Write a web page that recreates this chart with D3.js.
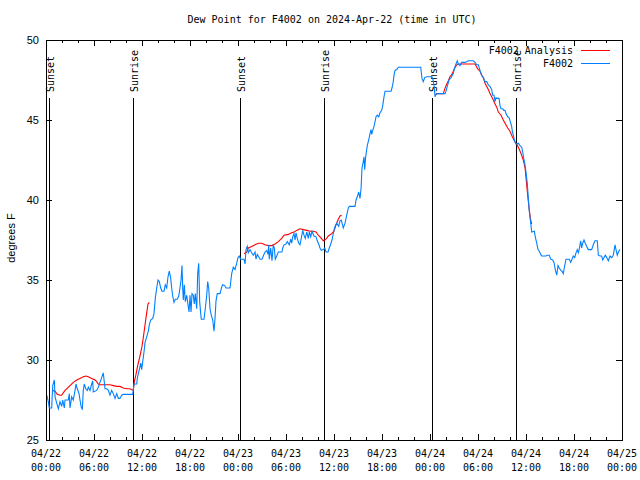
<!DOCTYPE html>
<html><head><meta charset="utf-8">
<script src="https://cdn.jsdelivr.net/npm/d3@7"></script>
<style>
body{margin:0;background:#fff;}
svg{display:block;}
.mono{font-family:"DejaVu Sans Mono","Liberation Mono",monospace;font-size:10px;fill:#000;}
.sans{font-family:"Liberation Sans","DejaVu Sans",sans-serif;font-size:11px;fill:#000;}
</style></head>
<body>
<svg id="c" width="640" height="480"></svg>
<script>
// ---- data (hours since 2024-04-22 00:00 UTC) ----
const title = "Dew Point for F4002 on 2024-Apr-22 (time in UTC)";
const yLabel = "degrees F";
const seriesNames = ["F4002 Analysis", "F4002"];
const yTicks = [25, 30, 35, 40, 45, 50];
const xTickHours = [0, 6, 12, 18, 24, 30, 36, 42, 48, 54, 60, 66, 72];
const sunsetHours = [0.4, 24.3, 48.3];
const sunriseHours = [10.9, 34.8, 58.75];

const obsHours = [0.09,0.29,0.41,0.71,0.84,1.04,1.13,1.34,1.54,1.75,1.96,2.09,2.29,2.38,2.79,2.91,3.0,3.21,3.41,3.63,3.75,3.91,4.13,4.25,4.38,4.54,4.66,4.79,4.96,5.16,5.29,5.5,5.71,5.84,5.91,6.34,6.54,6.75,6.96,7.16,7.38,7.59,7.79,8.0,8.21,8.41,8.63,8.84,9.04,9.25,9.46,9.66,10.84,
11.0,11.34,11.41,11.66,11.84,11.96,12.09,12.25,12.38,12.59,12.79,12.91,13.09,13.34,13.5,13.66,13.84,14.0,14.16,14.34,14.5,14.75,14.91,15.09,15.25,15.41,15.59,15.71,15.84,16.0,16.16,16.41,16.59,16.75,16.88,17.0,17.09,17.16,17.29,17.41,17.59,17.75,17.88,18.0,18.13,18.25,18.41,18.54,18.66,18.84,18.96,19.09,19.21,19.34,19.41,19.75,19.91,20.09,20.21,20.34,20.5,20.66,20.84,21.0,21.13,21.25,21.41,21.75,21.96,22.09,22.34,22.5,23.0,23.21,23.41,23.63,23.84,24.0,24.16,24.34,24.75,24.88,
25.0,25.16,25.29,25.5,25.71,25.91,26.13,26.25,26.41,26.59,26.75,27.0,27.16,27.38,27.59,27.75,27.84,27.91,28.09,28.25,28.41,28.54,28.66,28.84,29.04,29.5,29.59,29.75,30.0,30.16,30.41,30.59,30.71,30.84,31.0,31.13,31.25,31.41,31.59,31.75,31.91,32.09,32.25,32.41,32.59,32.79,32.91,33.09,33.25,33.5,33.75,33.91,34.09,34.25,34.41,34.66,34.84,35.0,35.25,35.41,35.59,35.75,35.91,36.04,36.16,36.34,36.59,36.75,36.91,37.16,37.38,37.59,37.79,37.91,38.63,38.75,38.91,39.09,39.25,39.38,39.5,39.66,39.75,39.84,39.94,40.04,40.16,40.34,40.5,40.63,40.71,40.84,41.0,41.13,41.25,41.41,41.59,41.75,41.96,42.09,42.25,42.38,43.13,43.25,43.41,43.5,43.63,43.84,44.04,46.84,47.0,47.16,47.34,47.59,48.21,48.34,48.5,48.63,48.75,48.96,49.88,
50.0,50.21,50.38,50.63,50.91,51.04,51.21,51.41,51.54,51.75,51.96,52.38,52.79,53.41,53.63,53.84,54.04,54.25,54.46,54.66,54.88,55.09,55.29,55.5,55.71,55.84,56.0,56.13,56.25,56.38,56.63,56.75,56.88,57.09,57.21,57.38,57.5,57.71,57.88,58.04,58.21,58.29,58.46,58.63,58.75,59.04,59.25,59.46,59.59,59.71,59.84,59.96,60.09,60.16,60.29,60.41,60.59,60.71,61.04,61.16,61.34,61.5,61.66,61.84,61.96,62.5,62.66,62.91,63.09,63.34,63.5,63.66,63.84,64.0,64.16,64.34,64.5,64.66,64.84,65.0,65.41,65.59,65.75,65.91,66.09,66.25,66.41,66.54,66.66,66.84,66.96,67.09,67.25,67.41,67.59,67.79,68.21,68.41,68.63,68.91,69.04,69.25,69.46,69.59,69.75,69.91,70.09,70.29,70.5,70.71,70.91,71.13,71.25,71.41,71.59,71.75];
const obsValues = [27.8,27.4,27.0,27.0,28.4,28.75,27.7,27.3,26.95,27.4,27.1,27.5,27.0,27.5,27.5,27.9,27.0,27.7,27.5,28.1,28.5,28.2,27.9,27.5,27.1,26.9,28.1,28.5,28.2,28.1,28.3,28.1,28.5,28.7,28.0,28.1,28.3,28.6,28.9,29.2,28.2,28.2,28.1,27.8,28.1,27.9,27.6,27.9,27.6,27.6,27.8,27.85,27.85,
28.5,28.5,28.85,29.4,29.8,29.4,29.9,30.5,31.1,31.45,31.8,32.2,32.5,32.6,32.9,33.85,34.5,35.0,34.9,34.5,34.3,34.3,34.7,34.5,35.2,35.55,35.1,34.5,34.0,33.6,33.8,33.8,34.0,34.5,35.0,35.9,34.5,33.75,34.7,33.65,34.05,33.45,33.0,34.05,33.0,34.15,34.05,33.5,34.15,33.2,35.4,36.05,33.65,32.9,32.55,32.55,33.2,34.05,34.9,34.5,33.2,32.8,32.5,31.8,32.6,33.7,34.15,34.15,34.55,34.7,34.65,34.5,34.5,35.4,35.8,35.65,36.05,36.4,36.5,36.3,36.3,36.0,
36.9,37.1,36.7,36.9,36.7,36.55,36.75,36.3,36.6,36.45,36.3,36.3,36.5,36.75,36.85,36.6,37.2,36.3,37.0,36.2,37.2,37.0,36.3,36.5,36.75,36.75,37.0,37.2,37.25,37.4,37.2,37.55,37.3,37.7,37.9,37.5,37.95,37.6,37.3,37.2,37.6,38.1,37.8,37.6,38.0,37.6,38.0,37.7,38.05,37.75,37.7,37.45,37.25,37.0,36.85,36.9,37.0,36.75,36.75,37.0,37.25,37.5,37.9,38.2,38.4,38.55,38.35,38.7,38.75,38.25,38.55,39.05,39.5,39.6,39.6,40.0,40.2,40.5,40.1,40.7,42.0,42.4,42.7,41.9,42.6,43.0,43.4,43.75,44.15,44.4,44.1,44.35,44.6,44.9,45.2,45.3,45.2,45.45,45.6,45.9,46.45,46.8,46.8,47.0,47.4,47.8,48.1,48.15,48.3,48.3,47.6,47.4,47.65,47.7,47.7,47.6,47.2,46.45,46.6,46.65,46.65,
46.8,47.2,47.5,47.65,47.9,48.2,48.45,48.7,48.5,48.4,48.6,48.6,48.7,48.7,48.6,48.45,48.45,48.1,47.8,47.65,47.4,47.4,47.2,47.1,46.9,46.55,46.55,46.15,46.4,46.35,46.35,45.9,45.7,45.7,45.6,45.6,45.4,45.2,45.15,44.9,44.6,44.3,43.95,43.6,43.5,43.55,43.4,43.3,43.0,42.6,42.3,41.9,41.35,41.05,40.1,39.3,38.55,38.0,38.05,37.7,37.3,36.9,36.8,36.6,36.5,36.5,36.55,36.55,36.3,36.25,36.1,35.65,35.3,35.9,35.75,35.6,35.55,35.4,35.9,36.3,36.3,36.1,36.3,36.5,36.4,36.7,36.9,36.7,36.95,37.45,37.0,37.3,37.5,37.3,37.1,36.9,36.9,37.2,37.45,37.45,36.55,36.5,36.5,36.25,36.4,36.55,36.4,36.2,36.5,36.4,36.55,37.2,36.9,36.55,36.8,36.9];

// analysis: null marks a gap between runs
const anaHours = [0.79,1.13,1.41,1.75,1.96,2.16,2.38,2.59,3.0,3.41,3.84,4.25,4.66,5.0,5.29,5.71,6.13,6.34,6.54,6.75,7.59,8.0,8.41,8.84,9.25,9.66,10.09,10.5,10.91,11.06,11.25,11.44,11.63,11.81,12.0,12.19,12.38,12.56,12.75,12.91,
null,
24.75,25.09,25.29,25.71,26.13,26.54,26.96,27.38,27.79,28.21,28.63,29.04,29.46,29.75,30.29,30.71,31.0,31.34,31.75,32.16,32.59,33.0,33.41,33.75,34.04,34.34,34.66,35.0,35.29,35.71,36.0,36.25,36.54,36.75,36.96,
null,
48.63,48.84,49.66,49.79,49.96,50.29,50.5,50.79,51.04,51.34,51.54,53.63,53.96,54.25,54.46,54.66,54.88,55.09,55.29,55.5,55.71,55.91,56.13,56.34,56.54,56.88,57.16,57.38,57.71,58.0,58.29,58.54,58.84,59.13,59.38,59.66,59.88,60.0,60.13,60.25,60.41,60.56,60.71];
const anaValues = [28.1,28.05,27.85,27.8,27.8,27.95,28.1,28.2,28.4,28.6,28.75,28.85,28.95,29.0,28.95,28.85,28.75,28.65,28.5,28.45,28.45,28.45,28.4,28.35,28.35,28.25,28.2,28.2,28.1,28.7,29.1,29.6,30.0,30.4,30.85,31.5,32.2,32.85,33.5,33.6,
null,
36.65,36.75,37.0,37.1,37.2,37.3,37.3,37.2,37.15,37.15,37.25,37.4,37.6,37.8,37.85,37.95,38.0,38.1,38.2,38.15,38.1,38.05,38.05,38.0,37.8,37.65,37.45,37.55,37.75,37.9,38.05,38.45,38.8,39.0,39.05,
null,
46.55,46.65,46.65,46.85,47.1,47.45,47.7,47.9,48.2,48.45,48.5,48.5,48.2,48.05,47.8,47.65,47.3,47.1,46.9,46.65,46.45,46.25,46.0,45.8,45.5,45.3,45.0,44.8,44.5,44.3,43.95,43.7,43.5,43.2,42.9,42.5,42.0,41.4,40.7,40.1,39.4,38.8,38.5];

// ---- drawing ----
const base = Date.UTC(2024, 3, 22);
const toDate = h => new Date(base + h * 3600e3);
const svg = d3.select("#c");
const L = 46, R = 622, T = 40, B = 440;
const x = d3.scaleUtc().domain([toDate(0), toDate(72)]).range([L, R]);
const y = d3.scaleLinear().domain([25, 50]).range([B, T]);
const red = "#ff0000", blue = "#0080ff";

svg.append("rect").attr("width", 640).attr("height", 480).attr("fill", "#fff");

const majorX = xTickHours.map(toDate);
const minorX = d3.range(0, 73, 2).filter(h => h % 6 !== 0).map(toDate);

function axisG(gen, tr) {
  const g = svg.append("g").attr("transform", tr).call(gen);
  g.select(".domain").remove();
  g.selectAll("line").attr("stroke", "#000").attr("shape-rendering", "crispEdges");
  g.selectAll("text").remove();
  return g;
}
axisG(d3.axisBottom(x).tickValues(majorX).tickSize(-6), `translate(0,${B})`);
axisG(d3.axisBottom(x).tickValues(minorX).tickSize(-3), `translate(0,${B})`);
axisG(d3.axisTop(x).tickValues(majorX).tickSize(-6), `translate(0,${T})`);
axisG(d3.axisTop(x).tickValues(minorX).tickSize(-3), `translate(0,${T})`);
axisG(d3.axisLeft(y).tickValues(yTicks).tickSize(-6), `translate(${L},0)`);
axisG(d3.axisRight(y).tickValues(yTicks).tickSize(-6), `translate(${R},0)`);

// x tick labels
const fmtD = d3.utcFormat("%m/%d"), fmtT = d3.utcFormat("%H:%M");
const xl = svg.append("g").selectAll("text").data(majorX).join("text")
  .attr("class", "mono").attr("text-anchor", "middle")
  .attr("transform", d => `translate(${x(d)},0)`);
xl.append("tspan").attr("x", 0).attr("y", 457).text(d => fmtD(d));
xl.append("tspan").attr("x", 0).attr("y", 471).text(d => fmtT(d));

// y tick labels
svg.append("g").selectAll("text").data(yTicks).join("text")
  .attr("class", "sans").attr("text-anchor", "end")
  .attr("x", 39).attr("y", d => y(d) + 4).text(d => d);

// sunrise / sunset markers
const marks = sunsetHours.map(h => ({h, t: "Sunset"})).concat(sunriseHours.map(h => ({h, t: "Sunrise"})));
const mg = svg.append("g");
mg.selectAll("line").data(marks).join("line")
  .attr("x1", d => Math.round(x(toDate(d.h))) + 0.5).attr("x2", d => Math.round(x(toDate(d.h))) + 0.5)
  .attr("y1", 98).attr("y2", B).attr("stroke", "#000").attr("shape-rendering", "crispEdges");
mg.selectAll("text").data(marks).join("text")
  .attr("class", "mono")
  .attr("transform", d => `translate(${Math.round(x(toDate(d.h))) + 5},92) rotate(-90)`)
  .text(d => d.t);

// data lines
const anaData = anaHours.map((h, i) => ({h, v: anaValues[i]}));
const obsData = obsHours.map((h, i) => ({h, v: obsValues[i]}));
const line = d3.line().defined(d => d.h != null && d.v != null)
  .x(d => x(toDate(d.h))).y(d => y(d.v));
svg.append("path").datum(anaData).attr("d", line).attr("fill", "none").attr("stroke", red)
  .attr("stroke-width", 1.1);
svg.append("path").datum(obsData).attr("d", line).attr("fill", "none").attr("stroke", blue)
  .attr("stroke-width", 1.1);

// border
svg.append("rect").attr("x", L + 0.5).attr("y", T + 0.5).attr("width", R - L).attr("height", B - T)
  .attr("fill", "none").attr("stroke", "#000").attr("shape-rendering", "crispEdges");

// legend
const lg = svg.append("g");
[[seriesNames[0], red, 50], [seriesNames[1], blue, 63]].forEach(([t, c, yy]) => {
  lg.append("text").attr("class", "mono").attr("text-anchor", "end")
    .attr("x", 573).attr("y", yy + 4).text(t);
  lg.append("line").attr("x1", 581).attr("x2", 610).attr("y1", yy + 0.5).attr("y2", yy + 0.5)
    .attr("stroke", c).attr("stroke-width", 1).attr("shape-rendering", "crispEdges");
});

// title and y label
svg.append("text").attr("class", "mono").attr("text-anchor", "middle")
  .attr("x", 332).attr("y", 23).text(title);
svg.append("text").attr("class", "sans").attr("text-anchor", "middle")
  .attr("transform", "translate(15,238) rotate(-90)").text(yLabel);
</script>
</body></html>
